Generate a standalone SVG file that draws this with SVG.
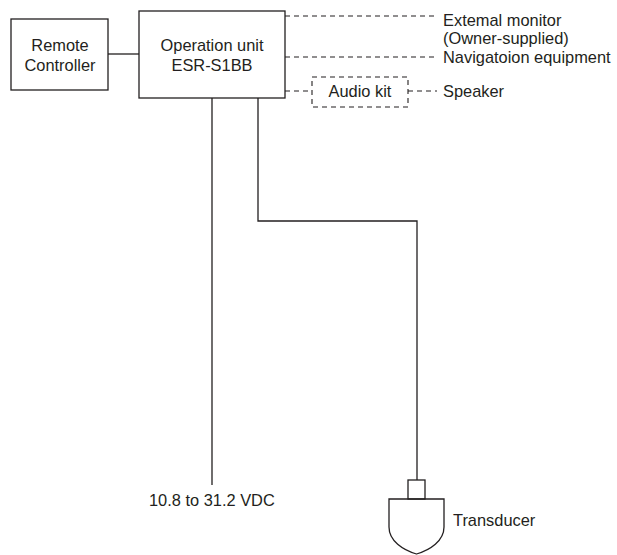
<svg xmlns="http://www.w3.org/2000/svg" width="617" height="555" viewBox="0 0 617 555">
<style>
.ln{fill:none;stroke:#231f20;stroke-width:1.3}
.dl{fill:none;stroke:#231f20;stroke-width:1.1;stroke-dasharray:5,4}
.tx{font-family:"Liberation Sans",Arial,sans-serif;font-size:16.4px;fill:#231f20}
.c{text-anchor:middle}
</style>
<rect width="617" height="555" fill="#fff"/>
<g id="connectors">
<line class="ln" x1="108" y1="54" x2="139" y2="54"/>
<polyline class="ln" points="212,98 212,485"/>
<polyline class="ln" points="258,98 258,221 417,221 417,480"/>
<line class="dl" x1="285" y1="16" x2="437" y2="16"/>
<line class="dl" x1="285" y1="57" x2="437" y2="57"/>
<line class="dl" x1="285" y1="91" x2="312" y2="91"/>
<line class="dl" x1="408" y1="91" x2="437" y2="91"/>
</g>
<g id="remote">
<rect class="ln" x="11" y="19" width="97" height="71"/>
<text class="tx c" x="60" y="51">Remote</text>
<text class="tx c" x="60" y="71">Controller</text>
</g>
<g id="operation">
<rect class="ln" x="139" y="11" width="146" height="87"/>
<text class="tx c" x="212" y="51">Operation unit</text>
<text class="tx c" x="212" y="71">ESR-S1BB</text>
</g>
<g id="monitor">
<text class="tx" x="443" y="26">Extemal monitor</text>
<text class="tx" x="443" y="44">(Owner-supplied)</text>
</g>
<g id="navigation">
<text class="tx" x="443" y="63">Navigatoion equipment</text>
</g>
<g id="audiokit">
<rect class="dl" x="312" y="77" width="96" height="30"/>
<text class="tx c" x="360" y="97">Audio kit</text>
</g>
<g id="speaker">
<text class="tx" x="443" y="97">Speaker</text>
</g>
<g id="power">
<text class="tx" x="149" y="506">10.8 to 31.2 VDC</text>
</g>
<g id="transducer">
<rect class="ln" x="408" y="480" width="17" height="19"/>
<path class="ln" d="M389,499 H444 V527 C444,541 430,550 416.5,554 C403,550 389,541 389,527 Z"/>
<text class="tx" x="453" y="526">Transducer</text>
</g>
</svg>
